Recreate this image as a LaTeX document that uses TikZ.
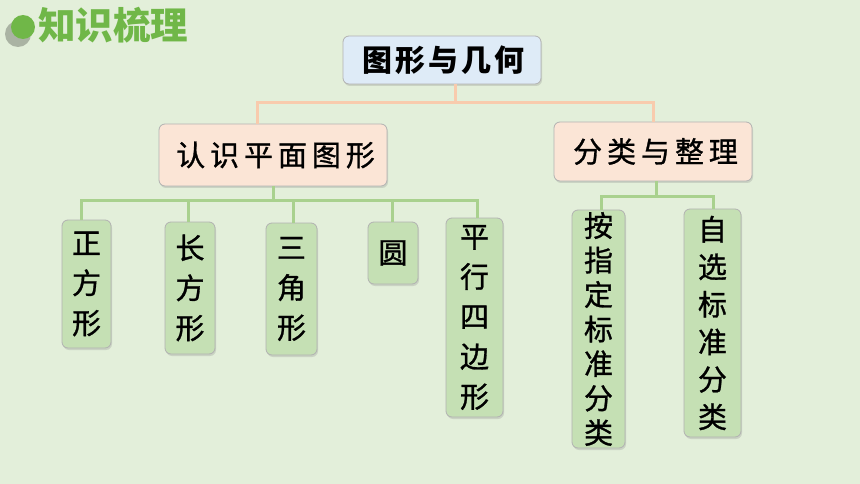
\documentclass[tikz,border=0pt]{standalone}
\usepackage{fontspec}
\newfontfamily\cjk{Noto Sans CJK SC}
\usetikzlibrary{shadows}
\definecolor{bg}{HTML}{E3EFDA}
\definecolor{tgreen}{HTML}{70B748}
\definecolor{rootfill}{HTML}{DEEBF7}
\definecolor{ofill}{HTML}{FBE5D6}
\definecolor{gfill}{HTML}{C5E0B4}
\definecolor{oline}{HTML}{F8CBAD}
\definecolor{gline}{HTML}{A9D18E}
\begin{document}
\begin{tikzpicture}[x=1pt,y=-1pt,
  box/.style={rounded corners=6pt, draw=black!30, line width=0.8pt,
    drop shadow={opacity=0.25,shadow xshift=1pt,shadow yshift=-2pt},
    inner sep=0pt, align=center},
  rootbox/.style={box, fill=rootfill, font=\cjk\bfseries\fontsize{30}{30}\selectfont\addfontfeature{LetterSpace=10}},
  obox/.style={box, fill=ofill, font=\cjk\fontsize{29}{29}\selectfont\addfontfeature{LetterSpace=17,FakeBold=1}},
  gbox/.style={box, fill=gfill, font=\cjk\fontsize{29}{40}\selectfont\addfontfeature{FakeBold=1}},
  oconn/.style={draw=oline, line width=3pt},
  gconn/.style={draw=gline, line width=3pt}]
\fill[bg] (0,0) rectangle (860,484);
\useasboundingbox (0,0) rectangle (860,484);
% title
\fill[black, opacity=0.25] (18,34) circle (13);
\node[circle, fill=tgreen, minimum size=24pt, inner sep=0pt] (dot) at (23,27) {};
\node[anchor=west, inner sep=0pt, text=tgreen, font=\cjk\bfseries\fontsize{37.5}{37.5}\selectfont] (title) at (38,25) {知识梳理};
% nodes
\node[rootbox, minimum width=198pt, minimum height=48pt] (root) at (442,60) {\hspace*{3pt}图形与几何};
\node[obox, minimum width=228pt, minimum height=62pt] (l1) at (273,155) {\hspace*{5pt}认识平面图形};
\node[obox, minimum width=198pt, minimum height=59pt] (r1) at (653,151.5) {\hspace*{5pt}分类与整理};
\node[gbox, minimum width=49pt, minimum height=128pt] (zf) at (86.5,284) {正\\方\\形};
\node[gbox, minimum width=50pt, minimum height=132pt] (cf) at (190,288) {长\\方\\形};
\node[gbox, minimum width=51pt, minimum height=132pt] (sj) at (291.5,289) {三\\角\\形};
\node[gbox, minimum width=50pt, minimum height=62pt] (yuan) at (393,253) {圆};
\node[gbox, minimum width=57pt, minimum height=199pt] (px) at (474.5,317.5) {平\\行\\四\\边\\形};
\node[gbox, minimum width=53pt, minimum height=238pt, font=\cjk\fontsize{29}{34.5}\selectfont\addfontfeature{FakeBold=1}] (az) at (598.5,329) {按\\指\\定\\标\\准\\分\\类};
\node[gbox, minimum width=57pt, minimum height=228pt, font=\cjk\fontsize{29}{37.5}\selectfont\addfontfeature{FakeBold=1}] (zx) at (712.5,323) {自\\选\\标\\准\\分\\类};
% orange connectors
\coordinate (oj) at (455,103);
\draw[oconn] ([xshift=13pt]root.south) -- ([xshift=13pt]root.south |- oj);
\draw[oconn] ([xshift=-16pt]l1.north) |- (r1.north |- oj) -- (r1.north);
% green connectors left
\coordinate (gj) at (273,201);
\draw[gconn] (l1.south) -- (l1.south |- gj);
\draw[gconn] ([xshift=-5pt]zf.north) |- (gj) -| ([xshift=2.5pt]px.north);
\draw[gconn] ([xshift=-2pt]cf.north) -- ([xshift=-2pt]cf.north |- gj);
\draw[gconn] ([xshift=1.5pt]sj.north) -- ([xshift=1.5pt]sj.north |- gj);
\draw[gconn] ([xshift=-1pt]yuan.north) -- ([xshift=-1pt]yuan.north |- gj);
% green connectors right
\coordinate (gk) at (656,197);
\draw[gconn] ([xshift=3pt]r1.south) -- ([xshift=3pt]r1.south |- gk);
\draw[gconn] ([xshift=2.5pt]az.north) |- (gk) -| ([xshift=0.5pt]zx.north);
\end{tikzpicture}
\end{document}
